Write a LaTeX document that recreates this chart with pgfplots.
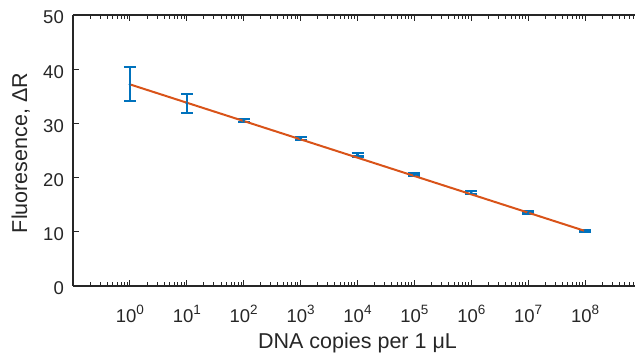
\documentclass[border=0pt]{standalone}
\usepackage{fontspec}
\setmainfont{Liberation Sans}
\usepackage{pgfplots}
\pgfplotsset{compat=1.18}
\definecolor{mblue}{RGB}{0,114,189}
\definecolor{morange}{RGB}{217,83,25}
\definecolor{maxis}{RGB}{38,38,38}
\newcommand{\tl}[1]{10\raisebox{8pt}{\fontsize{13.5}{13.5}\selectfont #1}}
\begin{document}
\begin{tikzpicture}
\begin{axis}[
  at={(0,0)}, anchor=south west,
  scale only axis, width=569pt, height=271pt,
  xmode=log, xmin=0.1, xmax=1e9, ymin=0, ymax=50,
  axis x line=box, axis y line*=left,
  axis line style={maxis, line width=1.2pt},
  every tick/.style={maxis, line width=1pt},
  tick align=inside,
  major tick length=6pt, minor tick length=3.5pt,
  xtick={1,10,100,1000,1e4,1e5,1e6,1e7,1e8},
  xticklabels={\tl{0},\tl{1},\tl{2},\tl{3},\tl{4},\tl{5},\tl{6},\tl{7},\tl{8}},
  minor xtick={0.2,0.3,0.4,0.5,0.6,0.7,0.8,0.9,
    2,3,4,5,6,7,8,9,
    20,30,40,50,60,70,80,90,
    200,300,400,500,600,700,800,900,
    2000,3000,4000,5000,6000,7000,8000,9000,
    2e4,3e4,4e4,5e4,6e4,7e4,8e4,9e4,
    2e5,3e5,4e5,5e5,6e5,7e5,8e5,9e5,
    2e6,3e6,4e6,5e6,6e6,7e6,8e6,9e6,
    2e7,3e7,4e7,5e7,6e7,7e7,8e7,9e7,
    2e8,3e8,4e8,5e8,6e8,7e8,8e8,9e8},
  ytick={0,10,20,30,40,50},
  /pgf/number format/assume math mode=true,
  ticklabel style={font=\fontsize{18.5}{20}\selectfont, text=maxis},
  yticklabel style={anchor=east, inner sep=0pt, xshift=-9pt, yshift=-2.5pt},
  xticklabel style={anchor=north, inner sep=0pt, yshift=-19pt},
  label style={font=\fontsize{21.5}{24}\selectfont, text=maxis},
  xlabel={DNA copies per 1 μL},
  ylabel={Fluoresence, ΔR},
  xlabel style={at={(axis description cs:0.5,-0.2288)}, anchor=base},
  ylabel style={at={(axis description cs:-0.0808,0.4908)}, anchor=base, rotate=0},
]
\addplot+[mblue, mark=*, mark size=1.1pt, only marks,
  mark options={fill=mblue, draw=mblue},
  error bars/.cd, y dir=both, y explicit,
  error bar style={line width=2.1pt, mblue},
  error mark options={rotate=90, mark size=6pt, line width=2.1pt, mblue}]
  table[x=x, y=y, y error=e] {
x y e
1 37.2 3.15
10 33.7 1.75
100 30.5 0.3
1000 27.25 0.3
1e4 24.2 0.3
1e5 20.5 0.25
1e6 17.2 0.25
1e7 13.5 0.25
1e8 10.15 0.25
};
\addplot[morange, line width=2pt] coordinates {(1,37.2) (1e8,10.15)};
\end{axis}
\pgfresetboundingbox
\useasboundingbox (-73pt,-70pt) rectangle (562pt,286pt);
\end{tikzpicture}
\end{document}
